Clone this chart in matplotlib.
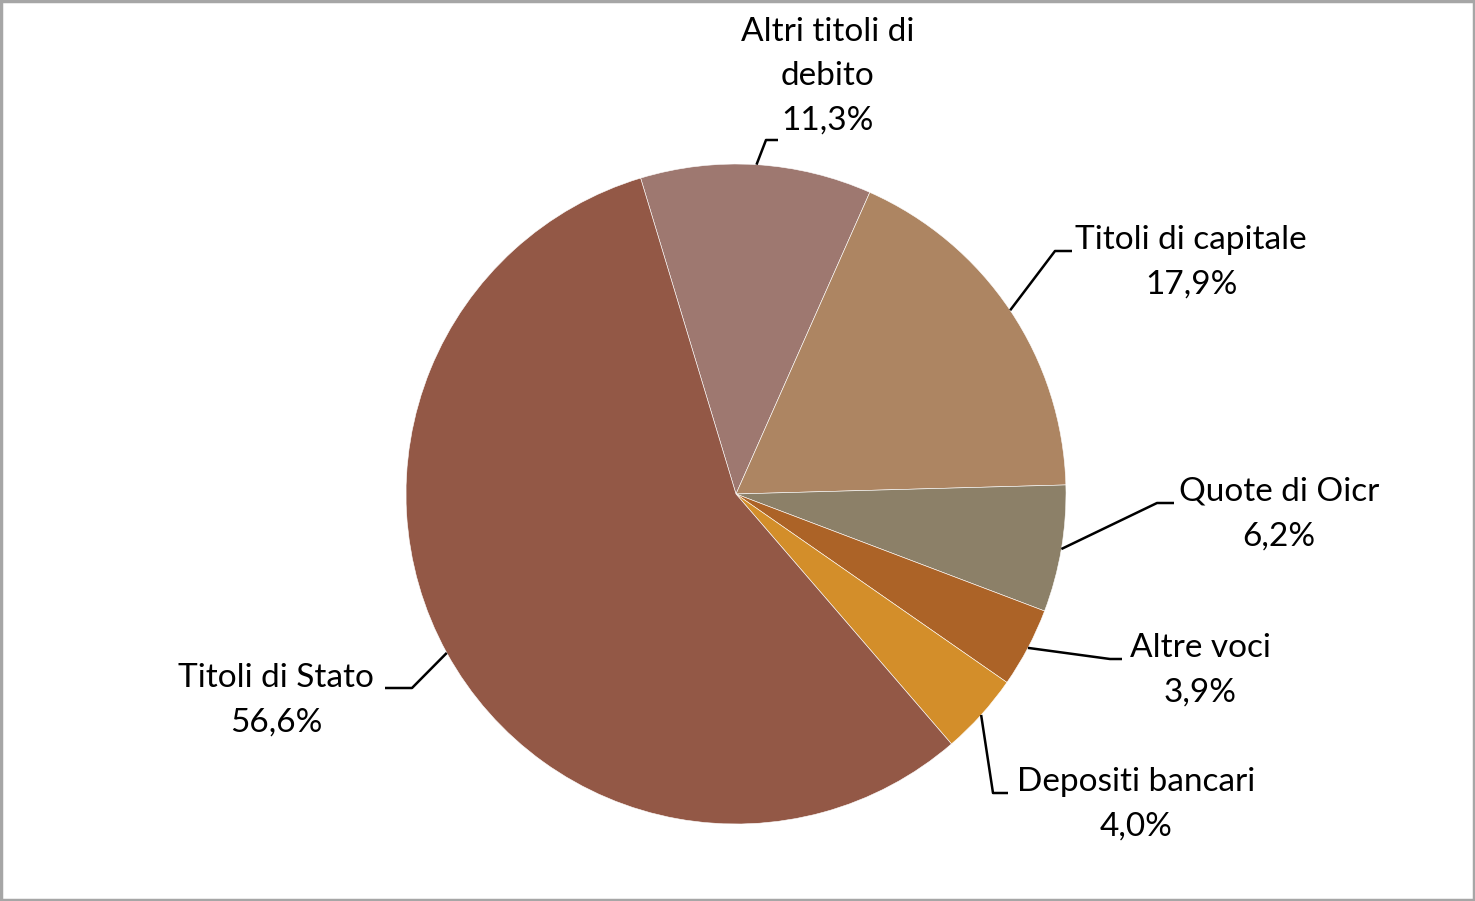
import numpy as np
from matplotlib import pyplot as plt

labels = ["Altri titoli di\ndebito", "Titoli di capitale", "Quote di Oicr",
          "Altre voci", "Depositi bancari", "Titoli di Stato"]
values = [11.3, 17.9, 6.2, 3.9, 4.0, 56.6]
pct_text = ["11,3%", "17,9%", "6,2%", "3,9%", "4,0%", "56,6%"]
colors = ["#9E7870", "#AD8562", "#8C8068", "#AC6327", "#D38E2A", "#935846"]

# layout in pixels (center 736,494 radius 330)
cx, cy, R = 736, 494, 330
def px(x, y):
    return (x - cx) / R, (cy - y) / R

# label text anchor (center of block), elbow, end of leader
label_pos = [(828, 76), (1191, 262), (1279, 514), (1200, 670), (1136, 804), (276, 700)]
elbows = [((766, 140), (778, 140)), ((1055, 251), (1072, 251)), ((1157, 503), (1174, 503)),
          ((1110, 659), (1122, 659)), ((993, 793), (1008, 793)), ((412, 688), (385, 688))]

fig = plt.figure(figsize=(14.75, 9.01), dpi=100)
ax = fig.add_axes([0, 0, 1, 1])

wedges, _ = ax.pie(values, colors=colors, startangle=106.8, counterclock=False,
                   radius=1, center=(0, 0), frame=True,
                   wedgeprops=dict(edgecolor='white', linewidth=0.4))
ax.set_xlim(-cx / R, (1475 - cx) / R)
ax.set_ylim((cy - 901) / R, cy / R)
ax.axis('off')

for w, lab, pct, lp, (e1, e2) in zip(wedges, labels, pct_text, label_pos, elbows):
    mid = np.deg2rad((w.theta1 + w.theta2) / 2)
    x0, y0 = np.cos(mid), np.sin(mid)
    x1, y1 = px(*e1)
    x2, y2 = px(*e2)
    ax.plot([x0, x1, x2], [y0, y1, y2], color='black', lw=1.8, solid_capstyle='butt')
    tx, ty = px(*lp)
    ax.text(tx, ty, lab + "\n" + pct, ha='center', va='center', fontsize=24,
            family='Lato', linespacing=1.6, color='black')

fig.patches.append(plt.Rectangle((0.001, 0.001), 0.998, 0.998, transform=fig.transFigure,
                                 fill=False, edgecolor='#A6A6A6', lw=2.5))
fig.savefig("out.png", dpi=100)
